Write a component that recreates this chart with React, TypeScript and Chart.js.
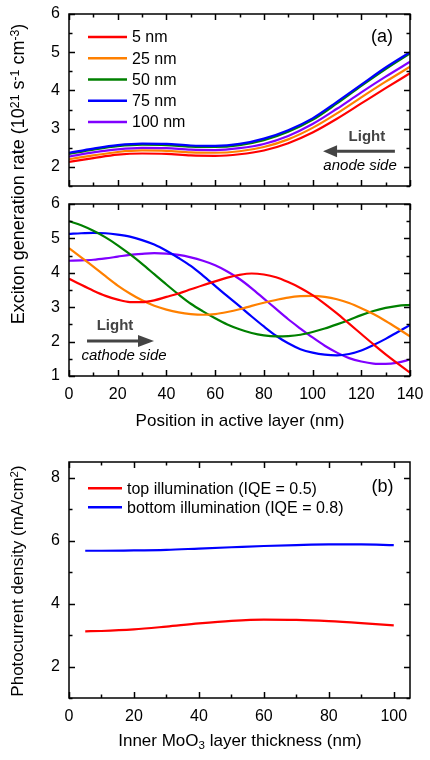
import React, { useEffect, useRef } from "react";
import { Chart, registerables } from "chart.js";
Chart.register(...registerables);

const FONT = "'Liberation Sans', Arial, Helvetica, sans-serif";

// ---------- data ----------
const seriesLabels = ["5 nm", "25 nm", "50 nm", "75 nm", "100 nm"];
const seriesColors = ["#ff0000", "#ff8000", "#008000", "#0000ff", "#8000ff"];

// panel (a) upper: light from anode side
const posTop = [0, 10, 20, 30, 40, 50, 60, 70, 80, 90, 100, 110, 120, 130, 140];
const topRed = [2.13, 2.23, 2.32, 2.35, 2.34, 2.3, 2.29, 2.33, 2.43, 2.62, 2.9, 3.26, 3.66, 4.06, 4.45];
const topOrange = [2.2, 2.3, 2.39, 2.43, 2.42, 2.38, 2.37, 2.41, 2.52, 2.72, 3.02, 3.4, 3.82, 4.23, 4.62];
const topGreen = [2.34, 2.45, 2.54, 2.58, 2.57, 2.53, 2.52, 2.57, 2.7, 2.92, 3.23, 3.66, 4.12, 4.56, 4.97];
const topBlue = [2.37, 2.48, 2.57, 2.61, 2.6, 2.56, 2.55, 2.6, 2.74, 2.96, 3.27, 3.7, 4.15, 4.6, 5.0];
const topPurple = [2.27, 2.38, 2.46, 2.5, 2.49, 2.45, 2.44, 2.49, 2.6, 2.81, 3.12, 3.52, 3.95, 4.36, 4.75];

// panel (a) lower: light from cathode side
const posMid = [0, 5, 10, 15, 20, 25, 30, 35, 40, 45, 50, 55, 60, 65, 70, 75, 80, 85, 90, 95, 100, 105, 110, 115, 120, 125, 130, 135, 140];
const midRed = [3.83, 3.65, 3.48, 3.33, 3.22, 3.15, 3.15, 3.2, 3.3, 3.4, 3.52, 3.64, 3.75, 3.86, 3.94, 3.98, 3.95, 3.87, 3.73, 3.56, 3.35, 3.1, 2.82, 2.52, 2.22, 1.92, 1.63, 1.36, 1.1];
const midOrange = [4.72, 4.45, 4.18, 3.9, 3.63, 3.4, 3.2, 3.04, 2.93, 2.85, 2.8, 2.78, 2.8, 2.86, 2.94, 3.04, 3.13, 3.21, 3.28, 3.32, 3.33, 3.3, 3.23, 3.12, 2.97, 2.8, 2.6, 2.38, 2.15];
const midGreen = [5.5, 5.38, 5.22, 5.03, 4.8, 4.54, 4.26, 3.96, 3.66, 3.37, 3.1, 2.88, 2.68, 2.5, 2.36, 2.25, 2.18, 2.15, 2.16, 2.2, 2.28, 2.38, 2.5, 2.63, 2.77, 2.89, 2.98, 3.04, 3.07];
const midBlue = [5.13, 5.15, 5.16, 5.15, 5.11, 5.05, 4.95, 4.82, 4.64, 4.43, 4.2, 3.92, 3.62, 3.32, 3.03, 2.73, 2.44, 2.17, 1.95, 1.78, 1.68, 1.62, 1.6, 1.64, 1.74, 1.9, 2.08, 2.28, 2.48];
const midPurple = [4.35, 4.36, 4.38, 4.42, 4.47, 4.52, 4.55, 4.57, 4.56, 4.52, 4.45, 4.35, 4.22, 4.04, 3.82, 3.55, 3.25, 2.95, 2.65, 2.38, 2.12, 1.88, 1.68, 1.52, 1.42, 1.36, 1.35, 1.39, 1.48];

// panel (b)
const moo3Thickness = [5, 10, 20, 30, 40, 50, 60, 70, 80, 90, 100];
const topIllumination = [3.12, 3.13, 3.18, 3.27, 3.37, 3.45, 3.49, 3.48, 3.44, 3.38, 3.31];
const bottomIllumination = [5.68, 5.68, 5.69, 5.71, 5.75, 5.79, 5.83, 5.86, 5.88, 5.88, 5.86];
const panelBLabels = ["top illumination (IQE = 0.5)", "bottom illumination (IQE = 0.8)"];
const panelBColors = ["#ff0000", "#0000ff"];

// ticks
const positionTicks = [0, 20, 40, 60, 80, 100, 120, 140];
const rateTicksTop = [2, 3, 4, 5, 6];
const rateTicksMid = [1, 2, 3, 4, 5, 6];
const thicknessTicks = [0, 20, 40, 60, 80, 100];
const currentTicks = [2, 4, 6, 8];

// ---------- plugin: frame, inward ticks, legend, annotations ----------
const decorPlugin = {
  id: "decor",
  afterDatasetsDraw(chart: any, _args: any, opts: any) {
    const { ctx, chartArea: a, scales } = chart;
    const xs = scales.x;
    const ys = scales.y;
    ctx.save();
    ctx.strokeStyle = "#000";
    ctx.lineWidth = 1.5;
    ctx.lineCap = "butt";
    const line = (x1: number, y1: number, x2: number, y2: number) => {
      ctx.beginPath();
      ctx.moveTo(x1, y1);
      ctx.lineTo(x2, y2);
      ctx.stroke();
    };
    const MAJ = 6;
    const MIN = 3.5;
    const nx0 = Math.ceil(xs.min / opts.minorX - 1e-9);
    const nx1 = Math.floor(xs.max / opts.minorX + 1e-9);
    for (let i = nx0; i <= nx1; i++) {
      const v = i * opts.minorX;
      const major = Math.abs(v / opts.majorX - Math.round(v / opts.majorX)) < 1e-6;
      const len = major ? MAJ : MIN;
      const px = Math.round(xs.getPixelForValue(v)) + 0.5;
      line(px, a.bottom, px, a.bottom - len);
      line(px, a.top, px, a.top + len);
    }
    const ny0 = Math.ceil(ys.min / opts.minorY - 1e-9);
    const ny1 = Math.floor(ys.max / opts.minorY + 1e-9);
    for (let i = ny0; i <= ny1; i++) {
      const v = i * opts.minorY;
      const major = Math.abs(v / opts.majorY - Math.round(v / opts.majorY)) < 1e-6;
      const len = major ? MAJ : MIN;
      const py = Math.round(ys.getPixelForValue(v)) + 0.5;
      line(a.left, py, a.left + len, py);
      line(a.right, py, a.right - len, py);
    }
    ctx.strokeRect(a.left, a.top, a.right - a.left, a.bottom - a.top);

    if (opts.legend) {
      const L = opts.legend;
      ctx.font = `${L.font}px ${FONT}`;
      ctx.textBaseline = "middle";
      ctx.textAlign = "left";
      chart.data.datasets.forEach((ds: any, i: number) => {
        const y = a.top + L.dy + i * L.rowH;
        ctx.strokeStyle = ds.borderColor;
        ctx.lineWidth = 2.5;
        line(a.left + L.dx, y, a.left + L.dx + L.len, y);
        ctx.fillStyle = "#000";
        ctx.fillText(ds.label, a.left + L.dx + L.len + L.gap, y + 1);
      });
    }

    (opts.arrows || []).forEach((ar: any) => {
      const x1 = xs.getPixelForValue(ar.from);
      const x2 = xs.getPixelForValue(ar.to);
      const y = ys.getPixelForValue(ar.y);
      const dir = Math.sign(x2 - x1);
      ctx.strokeStyle = "#444";
      ctx.fillStyle = "#444";
      ctx.lineWidth = 3;
      line(x1, y, x2 - dir * ar.head, y);
      ctx.beginPath();
      ctx.moveTo(x2, y);
      ctx.lineTo(x2 - dir * ar.head, y - ar.half);
      ctx.lineTo(x2 - dir * ar.head, y + ar.half);
      ctx.closePath();
      ctx.fill();
    });

    (opts.texts || []).forEach((t: any) => {
      ctx.font = `${t.style || ""} ${t.weight || ""} ${t.size}px ${FONT}`;
      ctx.fillStyle = t.color || "#000";
      ctx.textAlign = "center";
      ctx.textBaseline = "middle";
      ctx.fillText(t.text, xs.getPixelForValue(t.x), ys.getPixelForValue(t.y));
    });
    ctx.restore();
  },
};

function makeDatasets(xs: number[], series: number[][], labels: string[], colors: string[], orders: number[]) {
  return series.map((ys, i) => ({
    label: labels[i],
    data: xs.map((x, j) => ({ x, y: ys[j] })),
    borderColor: colors[i],
    backgroundColor: colors[i],
    borderWidth: 2.2,
    pointRadius: 0,
    fill: false,
    cubicInterpolationMode: "monotone" as const,
    order: orders[i],
  }));
}

const zeroPad = (ax: any) => {
  ax.paddingTop = 0;
  ax.paddingBottom = 0;
  ax.paddingLeft = 0;
  ax.paddingRight = 0;
};

function makeConfig(p: any) {
  const tickFont = { family: FONT, size: 16 };
  return {
    type: "line" as const,
    data: { datasets: p.datasets },
    options: {
      animation: false,
      responsive: false,
      maintainAspectRatio: false,
      devicePixelRatio: 1,
      layout: { padding: { top: p.padTop, left: 0, right: 20, bottom: 0 } },
      plugins: {
        legend: { display: false },
        tooltip: { enabled: false },
        title: { display: false },
        decor: p.decor,
      },
      scales: {
        x: {
          type: "linear",
          min: p.xMin,
          max: p.xMax,
          afterBuildTicks: (ax: any) => {
            ax.ticks = p.xTicks.map((v: number) => ({ value: v }));
          },
          afterFit: (ax: any) => {
            ax.height = p.xAxisH;
            zeroPad(ax);
          },
          grid: { display: false, drawTicks: false },
          border: { display: false },
          ticks: {
            display: p.showX,
            font: tickFont,
            color: "#000",
            padding: 9,
            maxRotation: 0,
            autoSkip: false,
            callback: (v: any) => String(v),
          },
        },
        y: {
          type: "linear",
          min: p.yMin,
          max: p.yMax,
          afterBuildTicks: (ax: any) => {
            ax.ticks = p.yTicks.map((v: number) => ({ value: v }));
          },
          afterFit: (ax: any) => {
            ax.width = 69;
            zeroPad(ax);
          },
          grid: { display: false, drawTicks: false },
          border: { display: false },
          ticks: {
            font: tickFont,
            color: "#000",
            padding: 9,
            autoSkip: false,
            callback: (v: any) => String(v),
          },
        },
      },
    },
    plugins: [decorPlugin],
  };
}

function ChartCanvas({ top, height, config }: { top: number; height: number; config: any }) {
  const ref = useRef<HTMLCanvasElement | null>(null);
  useEffect(() => {
    if (!ref.current) return;
    const chart = new Chart(ref.current, config);
    return () => chart.destroy();
  }, []);
  return (
    <canvas
      ref={ref}
      width={430}
      height={height}
      style={{ position: "absolute", left: 0, top, width: 430, height }}
    />
  );
}

const lightText = (x: number, y: number) => ({ text: "Light", x, y, size: 15, weight: "bold", color: "#444" });

const topConfig = makeConfig({
  datasets: makeDatasets(posTop, [topRed, topOrange, topGreen, topBlue, topPurple], seriesLabels, seriesColors, [4, 3, 2, 0, 1]),
  xMin: 0, xMax: 140, xTicks: positionTicks, showX: false,
  yMin: 1.5, yMax: 6, yTicks: rateTicksTop,
  padTop: 14, xAxisH: 9,
  decor: {
    minorX: 10, majorX: 20, minorY: 0.5, majorY: 1,
    legend: { dx: 19, dy: 23, rowH: 21.25, len: 39, gap: 5, font: 16 },
    arrows: [{ from: 133.8, to: 104.3, y: 2.41, head: 14, half: 6 }],
    texts: [
      { text: "(a)", x: 128.5, y: 5.4, size: 18 },
      lightText(122.3, 2.78),
      { text: "anode side", x: 119.5, y: 2.04, size: 15, style: "italic" },
    ],
  },
});

const midConfig = makeConfig({
  datasets: makeDatasets(posMid, [midRed, midOrange, midGreen, midBlue, midPurple], seriesLabels, seriesColors, [0, 1, 2, 3, 4]),
  xMin: 0, xMax: 140, xTicks: positionTicks, showX: true,
  yMin: 1, yMax: 6, yTicks: rateTicksMid,
  padTop: 14, xAxisH: 59,
  decor: {
    minorX: 10, majorX: 20, minorY: 0.5, majorY: 1,
    arrows: [{ from: 7.4, to: 34.9, y: 2.02, head: 16, half: 6 }],
    texts: [
      lightText(18.9, 2.45),
      { text: "cathode side", x: 22.6, y: 1.58, size: 15, style: "italic" },
    ],
  },
});

const bottomConfig = makeConfig({
  datasets: makeDatasets(moo3Thickness, [topIllumination, bottomIllumination], panelBLabels, panelBColors, [0, 1]),
  xMin: 0, xMax: 105, xTicks: thicknessTicks, showX: true,
  yMin: 1, yMax: 8.5, yTicks: currentTicks,
  padTop: 17, xAxisH: 62,
  decor: {
    minorX: 10, majorX: 20, minorY: 1, majorY: 2,
    legend: { dx: 19, dy: 26.3, rowH: 19, len: 34, gap: 5, font: 16 },
    texts: [{ text: "(b)", x: 96.5, y: 7.69, size: 18 }],
  },
});

const titleStyle: React.CSSProperties = {
  position: "absolute",
  fontFamily: FONT,
  color: "#000",
  whiteSpace: "nowrap",
  lineHeight: "20px",
};
const supStyle: React.CSSProperties = { fontSize: "0.68em", verticalAlign: "0.45em", lineHeight: 0 };
const subStyle: React.CSSProperties = { fontSize: "0.68em", verticalAlign: "-0.3em", lineHeight: 0 };

function RotTitle({ cx, cy, size, children }: { cx: number; cy: number; size: number; children: React.ReactNode }) {
  return (
    <div style={{ ...titleStyle, fontSize: size, left: cx, top: cy, transform: "translate(-50%, -50%) rotate(-90deg)" }}>
      {children}
    </div>
  );
}

function HTitle({ cx, cy, size, children }: { cx: number; cy: number; size: number; children: React.ReactNode }) {
  return (
    <div style={{ ...titleStyle, fontSize: size, left: cx, top: cy, transform: "translate(-50%, -50%)" }}>{children}</div>
  );
}

export default function App() {
  return (
    <div style={{ position: "absolute", left: 0, top: 0, width: 430, height: 760, background: "#fff", overflow: "hidden" }}>
      <ChartCanvas top={0} height={195} config={topConfig} />
      <ChartCanvas top={190} height={245} config={midConfig} />
      <ChartCanvas top={445} height={315} config={bottomConfig} />
      <RotTitle cx={18} cy={174} size={18}>
        Exciton generation rate (10<span style={supStyle}>21</span> s<span style={supStyle}>-1</span> cm<span style={supStyle}>-3</span>)
      </RotTitle>
      <HTitle cx={240} cy={421} size={17}>Position in active layer (nm)</HTitle>
      <RotTitle cx={18} cy={581} size={17}>
        Photocurrent density (mA/cm<span style={supStyle}>2</span>)
      </RotTitle>
      <HTitle cx={240} cy={741} size={17}>
        Inner MoO<span style={subStyle}>3</span> layer thickness (nm)
      </HTitle>
    </div>
  );
}
